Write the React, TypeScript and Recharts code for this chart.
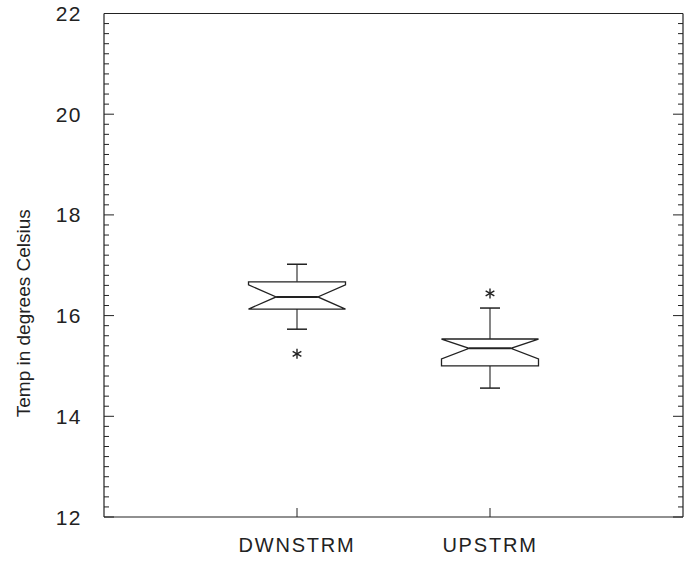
import React from 'react';
import { ComposedChart, Bar, Scatter, XAxis, YAxis, ReferenceLine, Label } from 'recharts';

const categories = ['DWNSTRM', 'UPSTRM'];
const whiskerLow = [15.73, 14.56];
const q1 = [16.13, 15.0];
const notchLow = [16.13, 15.14];
const median = [16.37, 15.35];
const notchHigh = [16.61, 15.535];
const q3 = [16.67, 15.535];
const whiskerHigh = [17.02, 16.15];
const outliers = [15.24, 16.44];
const majorTicks = [12, 14, 16, 18, 20, 22];
const minorTicks = [
  12.2, 12.4, 12.6, 12.8, 13, 13.2, 13.4, 13.6, 13.8,
  14.2, 14.4, 14.6, 14.8, 15, 15.2, 15.4, 15.6, 15.8,
  16.2, 16.4, 16.6, 16.8, 17, 17.2, 17.4, 17.6, 17.8,
  18.2, 18.4, 18.6, 18.8, 19, 19.2, 19.4, 19.6, 19.8,
  20.2, 20.4, 20.6, 20.8, 21, 21.2, 21.4, 21.6, 21.8,
];
const allTicks = [...majorTicks, ...minorTicks].sort((a, b) => a - b);

const data = categories.map((name, i) => ({
  name,
  range: [whiskerLow[i], whiskerHigh[i]],
  low: whiskerLow[i],
  q1: q1[i],
  notchLow: notchLow[i],
  median: median[i],
  notchHigh: notchHigh[i],
  q3: q3[i],
  high: whiskerHigh[i],
  outlier: outliers[i],
}));

const INK = '#222';
const FONT = '"Liberation Sans", Arial, Helvetica, sans-serif';
const Y_DOMAIN: [number, number] = [12, 22];
const X_PAD = { left: 96.5, right: 96.5 };

const BoxShape = (props: any) => {
  const { x, y, width, height, payload } = props;
  const lo = payload.low;
  const hi = payload.high;
  const px = (v: number) => y + ((hi - v) / (hi - lo)) * height;
  const cx = x + width / 2;
  const hw = width / 2;
  const nw = hw * 0.43;
  const cap = 10;
  const yT = px(payload.q3);
  const yB = px(payload.q1);
  const yNU = px(payload.notchHigh);
  const yNL = px(payload.notchLow);
  const yM = px(payload.median);
  const yHi = px(hi);
  const yLo = px(lo);
  const path = `M${cx - hw},${yT} L${cx + hw},${yT} L${cx + hw},${yNU} L${cx + nw},${yM} L${cx + hw},${yNL} L${cx + hw},${yB} L${cx - hw},${yB} L${cx - hw},${yNL} L${cx - nw},${yM} L${cx - hw},${yNU} Z`;
  return (
    <g>
      <line x1={cx} x2={cx} y1={yT} y2={yHi} stroke={INK} strokeWidth={1.1} />
      <line x1={cx - cap} x2={cx + cap} y1={yHi} y2={yHi} stroke={INK} strokeWidth={1.5} />
      <line x1={cx} x2={cx} y1={yB} y2={yLo} stroke={INK} strokeWidth={1.1} />
      <line x1={cx - cap} x2={cx + cap} y1={yLo} y2={yLo} stroke={INK} strokeWidth={1.5} />
      <path d={path} fill="none" stroke={INK} strokeWidth={1.3} strokeLinejoin="miter" />
      <line x1={cx - nw} x2={cx + nw} y1={yM} y2={yM} stroke={INK} strokeWidth={2} />
    </g>
  );
};

const Star = (props: any) => {
  const { cx, cy } = props;
  const r = 5;
  const d = r * 0.87;
  return (
    <g stroke={INK} strokeWidth={1.4}>
      <line x1={cx} x2={cx} y1={cy - r} y2={cy + r} />
      <line x1={cx - d} x2={cx + d} y1={cy - r / 2} y2={cy + r / 2} />
      <line x1={cx - d} x2={cx + d} y1={cy + r / 2} y2={cy - r / 2} />
    </g>
  );
};

const LeftLabel = (props: any) => {
  const { x, y, payload } = props;
  return (
    <text x={x - 16} y={y} dy="0.36em" textAnchor="end" fontSize={21} letterSpacing={1.5} fontFamily={FONT} fill={INK}>
      {payload.value}
    </text>
  );
};

// extends the inward tick line for the major values (x is the inner end of the default tick line)
const LeftExt = (props: any) => {
  const { x, y, payload } = props;
  if (!majorTicks.includes(payload.value)) return <g />;
  return <line x1={x} x2={x + 5} y1={y} y2={y} stroke={INK} strokeWidth={1} />;
};
const RightExt = (props: any) => {
  const { x, y, payload } = props;
  if (!majorTicks.includes(payload.value)) return <g />;
  return <line x1={x} x2={x - 5} y1={y} y2={y} stroke={INK} strokeWidth={1} />;
};

const BottomLabel = (props: any) => {
  const { x, y, payload } = props;
  return (
    <text x={x} y={y + 29} textAnchor="middle" fontSize={20} letterSpacing={1.8} fontFamily={FONT} fill={INK}>
      {payload.value}
    </text>
  );
};

const Empty = () => <g />;

const TitleLabel = (p: any) => {
  const vb = p.viewBox;
  const cx = vb.x + 23;
  const cy = vb.y + vb.height / 2 + 48;
  return (
    <text x={cx} y={cy} transform={`rotate(-90 ${cx} ${cy})`} textAnchor="middle" dominantBaseline="central" fontSize={19} fontFamily={FONT} fill={INK}>
      Temp in degrees Celsius
    </text>
  );
};

export default function App() {
  const tickLine = { stroke: INK, strokeWidth: 1 };
  return (
    <div style={{ position: 'absolute', left: 0, top: 0, width: 694, height: 571, background: '#fff' }}>
      <ComposedChart width={694} height={571} data={data} margin={{ top: 13.5, right: 0, bottom: 0, left: 0 }}>
        <XAxis
          dataKey="name"
          type="category"
          padding={X_PAD}
          height={54}
          tickSize={6}
          tickMargin={0}
          interval={0}
          axisLine={{ stroke: INK, strokeWidth: 1.2 }}
          tickLine={false}
          tick={<BottomLabel />}
        />
        <XAxis
          xAxisId="ticks"
          dataKey="name"
          type="category"
          padding={X_PAD}
          mirror
          height={10}
          tickSize={9}
          interval={0}
          axisLine={false}
          tickLine={tickLine}
          tick={<Empty />}
        />
        <YAxis
          yAxisId="left"
          type="number"
          domain={Y_DOMAIN}
          ticks={majorTicks}
          interval={0}
          width={104}
          tickSize={6}
          tickMargin={0}
          axisLine={{ stroke: INK, strokeWidth: 1.2 }}
          tickLine={false}
          tick={<LeftLabel />}
          allowDataOverflow
        >
          <Label content={TitleLabel} />
        </YAxis>
        <YAxis
          yAxisId="leftTicks"
          type="number"
          domain={Y_DOMAIN}
          ticks={allTicks}
          interval={0}
          mirror
          width={10}
          tickSize={5}
          tickMargin={0}
          axisLine={false}
          tickLine={tickLine}
          tick={<LeftExt />}
          allowDataOverflow
        />
        <YAxis
          yAxisId="right"
          orientation="right"
          type="number"
          domain={Y_DOMAIN}
          width={11}
          axisLine={{ stroke: INK, strokeWidth: 1.2 }}
          tickLine={false}
          tick={false}
          allowDataOverflow
        />
        <YAxis
          yAxisId="rightTicks"
          orientation="right"
          type="number"
          domain={Y_DOMAIN}
          ticks={allTicks}
          interval={0}
          mirror
          width={10}
          tickSize={5}
          tickMargin={0}
          axisLine={false}
          tickLine={tickLine}
          tick={<RightExt />}
          allowDataOverflow
        />
        <ReferenceLine yAxisId="left" y={22} stroke={INK} strokeWidth={1.2} ifOverflow="visible" />
        <Bar yAxisId="left" dataKey="range" barSize={97} shape={<BoxShape />} isAnimationActive={false} />
        <Scatter yAxisId="left" dataKey="outlier" shape={<Star />} isAnimationActive={false} />
      </ComposedChart>
    </div>
  );
}
